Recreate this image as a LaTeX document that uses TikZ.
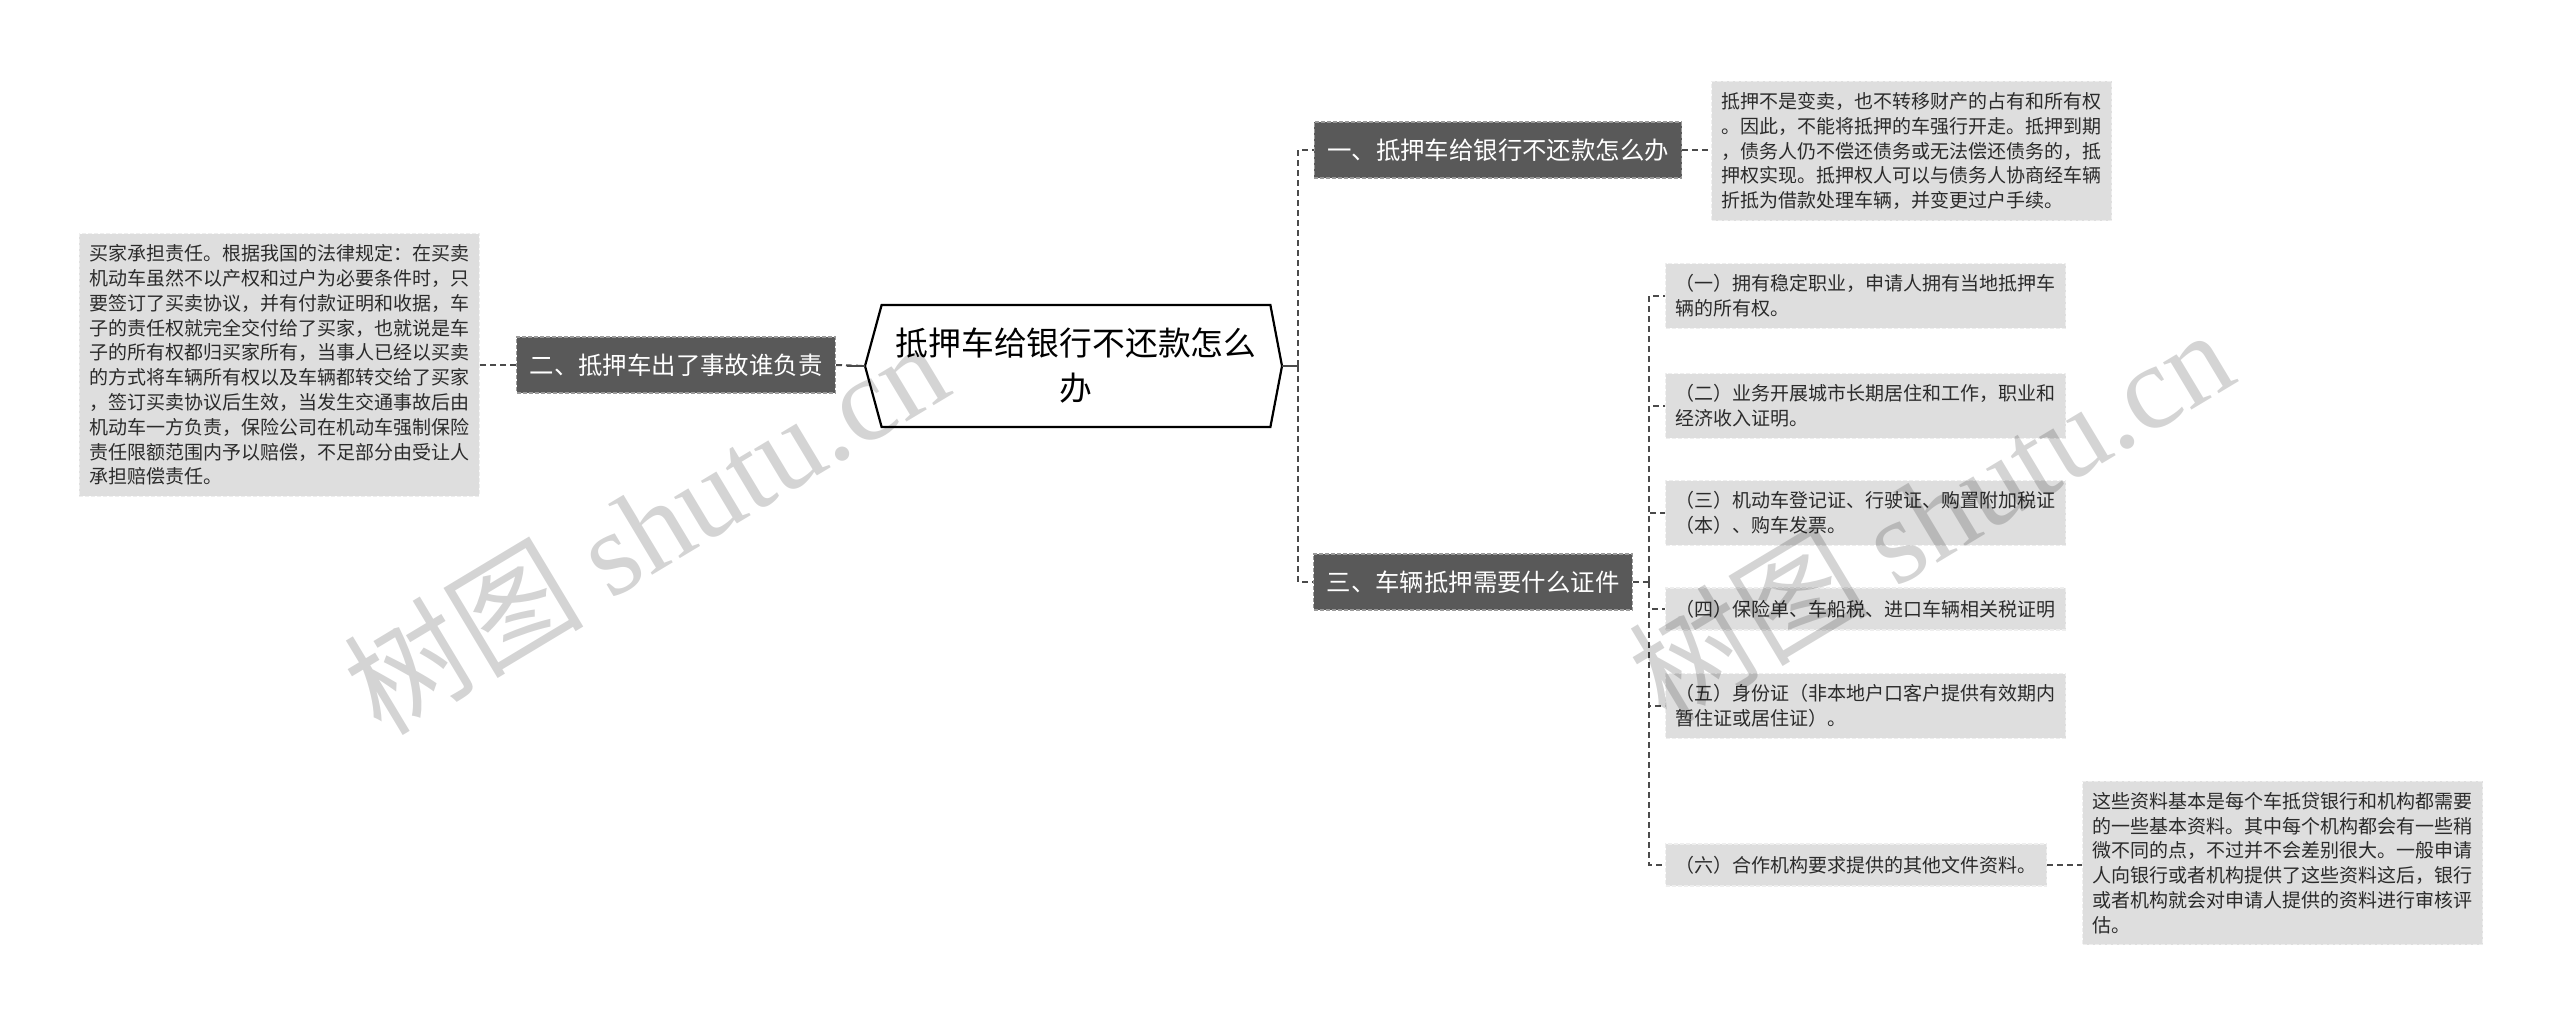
\documentclass[tikz,border=0pt]{standalone}
\usepackage{fontspec}
\setmainfont{Noto Sans CJK SC}
\newfontfamily\wmlatin{Liberation Serif}
\usetikzlibrary{calc}
\definecolor{darkbox}{HTML}{595959}
\definecolor{darkedge}{HTML}{9A9A9A}
\definecolor{lightbox}{HTML}{DEDEDE}
\definecolor{lightedge}{HTML}{EEEEEE}
\definecolor{linecol}{HTML}{4A4A4A}
\definecolor{txtcol}{HTML}{2B2B2B}
\begin{document}
\begin{tikzpicture}[x=0.5pt,y=-0.5pt,
  darknode/.style={fill=darkbox, draw=darkedge, dash pattern=on 2pt off 1pt, line width=0.6pt,
    text=white, font=\fontsize{12.2}{15}\selectfont, inner xsep=6.5pt, inner ysep=0pt,
    minimum height=28pt},
  lightnode/.style={fill=lightbox, draw=lightedge, dash pattern=on 2pt off 1pt, line width=0.6pt,
    text=txtcol, font=\fontsize{9.5}{12.4}\selectfont, align=left, inner xsep=5pt,
    inner ysep=5.5pt, minimum height=21pt},
  dashconn/.style={draw=linecol, line width=1pt, dash pattern=on 3pt off 2pt},
  solidconn/.style={draw=linecol, line width=1.2pt},
  watermark/.style={rotate=31, text=black, text opacity=0.17, font=\fontsize{60}{60}\selectfont, inner sep=0pt}
]
\fill[white] (0,0) rectangle (2560,1027);
\useasboundingbox (0,0) rectangle (2560,1027);

% root
\node[minimum width=194pt, minimum height=60.5pt, inner sep=0pt, align=center,
  font=\fontsize{16.4}{22.5}\selectfont, text=black] (root) at (1076,366)
  {抵押车给银行不还款怎么\\办};
\coordinate (rootR) at (1282,366);
\coordinate (rootL) at (865,366);
\draw[line width=1.1pt, fill=white] (root.north west) -- (root.north east) -- (rootR)
  -- (root.south east) -- (root.south west) -- (rootL) -- cycle;
\node[minimum width=194pt, minimum height=60.5pt, inner sep=0pt, align=center,
  font=\fontsize{16.4}{22.5}\selectfont, text=black] at (root.center)
  {抵押车给银行不还款怎么\\办};

% level 1
\node[darknode] (n1) at (1498,150) {一、抵押车给银行不还款怎么办};
\node[darknode] (n2) at (676,365) {二、抵押车出了事故谁负责};
\node[darknode] (n3) at (1473,582) {三、车辆抵押需要什么证件};

% details
\node[lightnode, anchor=west] (n1c) at (1711,151)
  {抵押不是变卖，也不转移财产的占有和所有权\\。因此，不能将抵押的车强行开走。抵押到期\\，债务人仍不偿还债务或无法偿还债务的，抵\\押权实现。抵押权人可以与债务人协商经车辆\\折抵为借款处理车辆，并变更过户手续。};
\node[lightnode, anchor=east] (n2c) at (480,365)
  {买家承担责任。根据我国的法律规定：在买卖\\机动车虽然不以产权和过户为必要条件时，只\\要签订了买卖协议，并有付款证明和收据，车\\子的责任权就完全交付给了买家，也就说是车\\子的所有权都归买家所有，当事人已经以买卖\\的方式将车辆所有权以及车辆都转交给了买家\\，签订买卖协议后生效，当发生交通事故后由\\机动车一方负责，保险公司在机动车强制保险\\责任限额范围内予以赔偿，不足部分由受让人\\承担赔偿责任。};

\node[lightnode, anchor=west] (s1) at (1665,296)
  {（一）拥有稳定职业，申请人拥有当地抵押车\\辆的所有权。};
\node[lightnode, anchor=west] (s2) at (1665,406)
  {（二）业务开展城市长期居住和工作，职业和\\经济收入证明。};
\node[lightnode, anchor=west] (s3) at (1665,513)
  {（三）机动车登记证、行驶证、购置附加税证\\（本）、购车发票。};
\node[lightnode, anchor=west] (s4) at (1665,609)
  {（四）保险单、车船税、进口车辆相关税证明};
\node[lightnode, anchor=west] (s5) at (1665,706)
  {（五）身份证（非本地户口客户提供有效期内\\暂住证或居住证）。};
\node[lightnode, anchor=west] (s6) at (1665,865)
  {（六）合作机构要求提供的其他文件资料。};
\node[lightnode, anchor=west] (s6c) at (2082,863)
  {这些资料基本是每个车抵贷银行和机构都需要\\的一些基本资料。其中每个机构都会有一些稍\\微不同的点，不过并不会差别很大。一般申请\\人向银行或者机构提供了这些资料这后，银行\\或者机构就会对申请人提供的资料进行审核评\\估。};

% connectors
\coordinate (rj) at (1298,366);
\draw[solidconn] (rootR) -- (rj);
\draw[dashconn] (rj) |- (n1.west);
\draw[dashconn] (rj) |- (n3.west);
\draw[dashconn] (n2.east) -- (rootL);
\draw[solidconn] (rootL) -- ++(-18,0);
\draw[dashconn] (n2.west) -- (n2c.east);
\draw[dashconn] (n1.east) -- (n1.east -| n1c.west);

\coordinate (sj) at (1649,582);
\draw[dashconn] (n3.east) -- (sj);
\foreach \s in {s1,s2,s3,s4,s5,s6}{
  \draw[dashconn] (sj) |- (\s.west);
}
\draw[dashconn] (s6.east) -- (s6.east -| s6c.west);

% watermarks
\node[watermark] (wm1) at (645,526) {树图 {\wmlatin shutu.cn}};
\node[watermark] (wm2) at (1930,514) {树图 {\wmlatin shutu.cn}};
\end{tikzpicture}
\end{document}
